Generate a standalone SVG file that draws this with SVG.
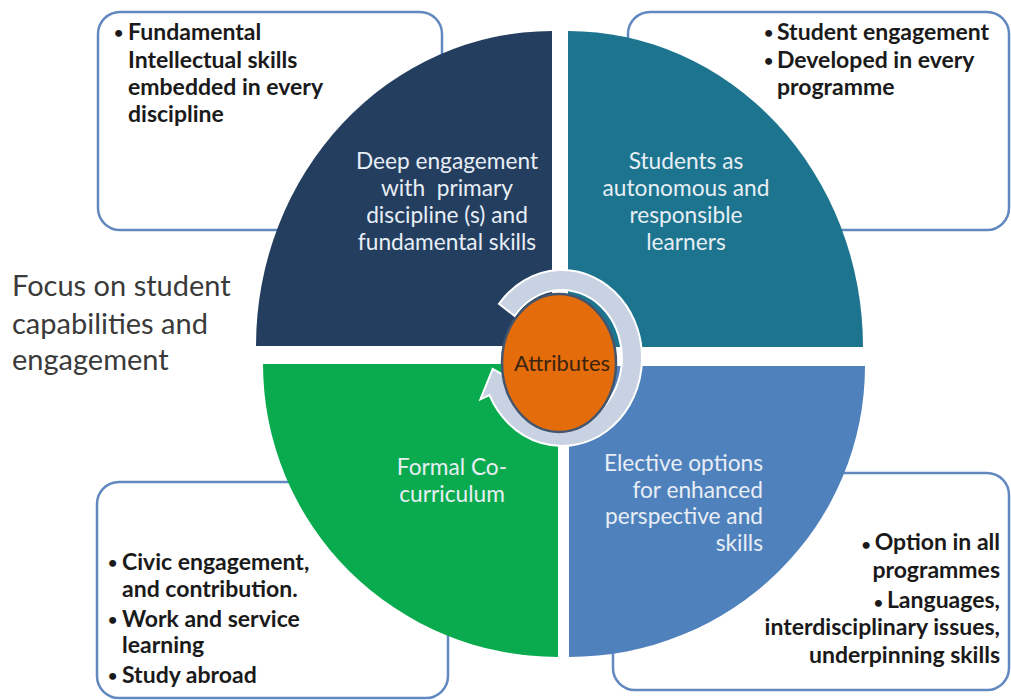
<svg xmlns="http://www.w3.org/2000/svg" width="1011" height="700" viewBox="0 0 1011 700">
<style>
.box{fill:#fff;stroke:#6288c0;stroke-width:2.5}
.bt{font-family:Lato,"Liberation Sans",sans-serif;font-weight:700;font-size:23px;fill:#1a1a1a}
.bu{font-size:16px}
.ql{font-family:Lato,"Liberation Sans",sans-serif;font-size:22.7px;fill:#e8eef5;text-anchor:middle}
.qr{font-family:Lato,"Liberation Sans",sans-serif;font-size:22.7px;fill:#e8eef5;text-anchor:end}
.side{font-family:Lato,"Liberation Sans",sans-serif;font-size:29px;fill:#3a3a3a}
</style>
<rect width="1011" height="700" fill="#fff"/>
<g id="box-tl">
<rect class="box" x="98" y="12" width="344" height="218" rx="22"/>
<text class="bt"><tspan class="bu" x="114" y="38">•</tspan><tspan x="128" y="40">Fundamental</tspan><tspan x="128" y="68">Intellectual skills</tspan><tspan x="128" y="95">embedded in every</tspan><tspan x="128" y="122">discipline</tspan></text>
</g>
<g id="box-tr">
<rect class="box" x="628" y="12" width="381" height="218" rx="22"/>
<text class="bt"><tspan class="bu" x="764" y="38">•</tspan><tspan x="777" y="40">Student engagement</tspan><tspan class="bu" x="764" y="66">•</tspan><tspan x="777" y="68">Developed in every</tspan><tspan x="777" y="95">programme</tspan></text>
</g>
<g id="box-bl">
<rect class="box" x="97" y="482" width="351" height="216" rx="22"/>
<text class="bt"><tspan class="bu" x="108" y="568">•</tspan><tspan x="122" y="570">Civic engagement,</tspan><tspan x="122" y="597">and contribution.</tspan><tspan class="bu" x="108" y="625">•</tspan><tspan x="122" y="627">Work and service</tspan><tspan x="122" y="653">learning</tspan><tspan class="bu" x="108" y="681">•</tspan><tspan x="122" y="683">Study abroad</tspan></text>
</g>
<g id="box-br">
<rect class="box" x="613" y="473" width="396" height="217" rx="22"/>
<text class="bt" text-anchor="end"><tspan x="1000" y="550"><tspan class="bu">• </tspan>Option in all</tspan><tspan x="1000" y="578">programmes</tspan><tspan x="1000" y="608"><tspan class="bu">• </tspan>Languages,</tspan><tspan x="1000" y="635">interdisciplinary issues,</tspan><tspan x="1000" y="663">underpinning skills</tspan></text>
</g>
<g id="quad-tl">
<path d="M552,346 L256,346 A296 315 0 0 1 552,31 Z" fill="#243e60"/>
<text class="ql"><tspan x="447" y="169">Deep engagement</tspan><tspan x="447" y="196">with&#160; primary</tspan><tspan x="447" y="223">discipline (s) and</tspan><tspan x="447" y="250">fundamental skills</tspan></text>
</g>
<g id="quad-tr">
<path d="M568,347 L568,31 A295 316 0 0 1 863,347 Z" fill="#1c748e"/>
<text class="ql"><tspan x="686" y="169">Students as</tspan><tspan x="686" y="196">autonomous and</tspan><tspan x="686" y="223">responsible</tspan><tspan x="686" y="250">learners</tspan></text>
</g>
<g id="quad-bl">
<path d="M558,364 L263,364 A295 293 0 0 0 558,657 Z" fill="#0aab4e"/>
<text class="ql"><tspan x="452" y="475">Formal Co-</tspan><tspan x="452" y="502">curriculum</tspan></text>
</g>
<g id="quad-br">
<path d="M569,366 L865,366 A296 291 0 0 1 569,657 Z" fill="#4f81bd"/>
<text class="qr"><tspan x="763" y="471">Elective options</tspan><tspan x="763" y="498">for enhanced</tspan><tspan x="763" y="524">perspective and</tspan><tspan x="763" y="551">skills</tspan></text>
</g>
<g id="connectors">
<path d="M499.0,303.8 A80 88 0 1 1 489.5,395.2 L480.4,399.4 L492.7,368.9 L516.7,382.5 L507.6,386.8 A60 68 0 1 0 514.7,316.1 Z" fill="#c8d2e3" stroke="#fff" stroke-width="2"/>
</g>
<g id="attributes">
<ellipse cx="559" cy="363" rx="57" ry="69" fill="#e46c0a" stroke="#44566e" stroke-width="2.5"/>
<text x="562" y="371" font-family="Lato,'Liberation Sans',sans-serif" font-size="22" fill="#3b2410" text-anchor="middle">Attributes</text>
</g>
<g id="focus">
<text class="side"><tspan x="12" y="296">Focus on student</tspan><tspan x="12" y="334">capabilities and</tspan><tspan x="12" y="370">engagement</tspan></text>
</g>
</svg>
